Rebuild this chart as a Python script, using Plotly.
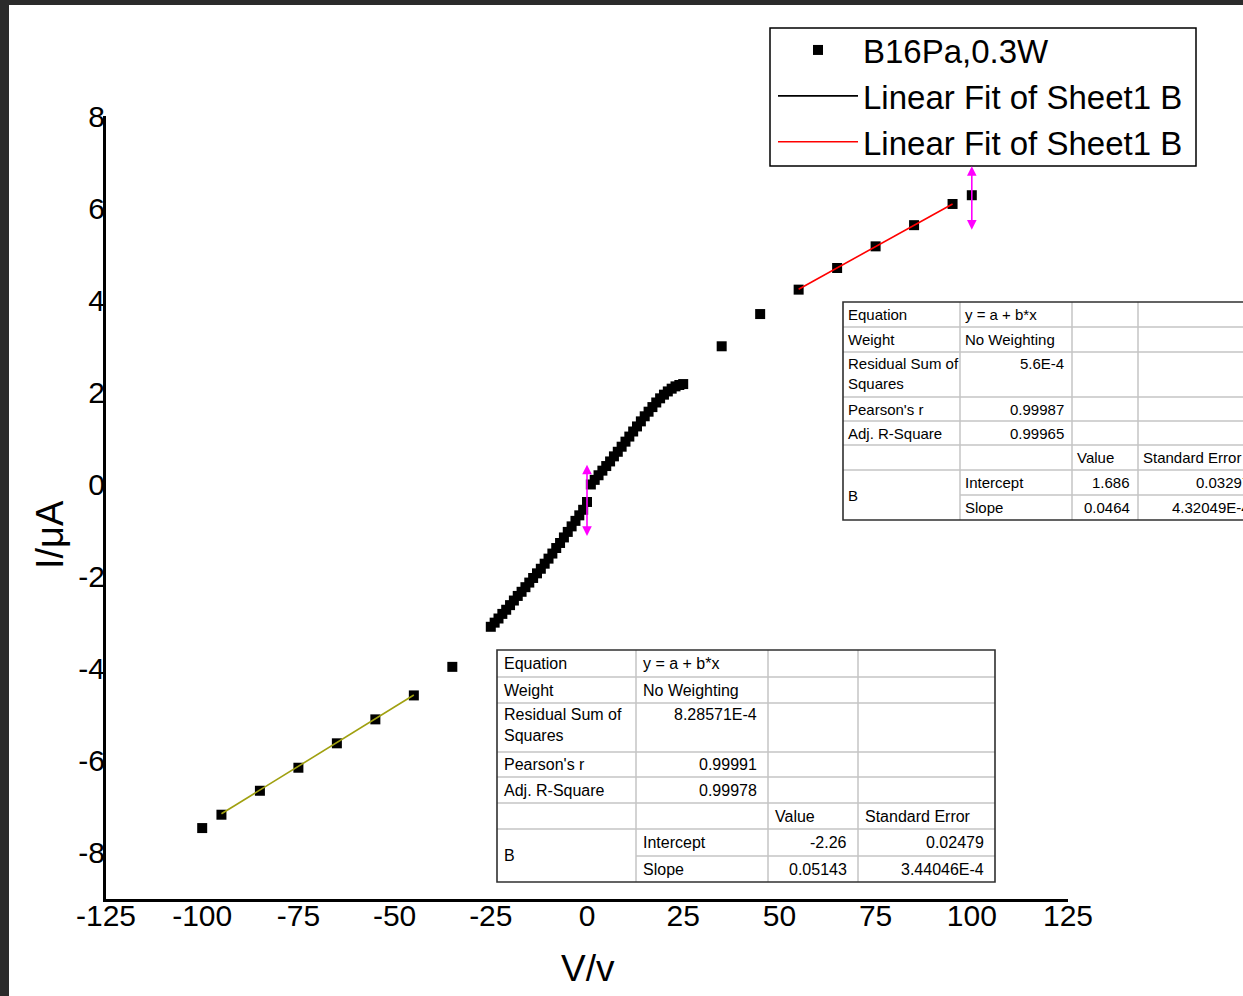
import plotly.graph_objects as go

# ---------------- data ----------------
volts = [-100, -95, -85, -75, -65, -55, -45, -35,
         -25, -24, -23, -22, -21, -20, -19, -18, -17, -16, -15, -14, -13,
         -12, -11, -10, -9, -8, -7, -6, -5, -4, -3, -2, -1, 0,
         1, 2, 3, 4, 5, 6, 7, 8, 9, 10, 11, 12, 13, 14, 15, 16, 17, 18,
         19, 20, 21, 22, 23, 24, 25,
         35, 45, 55, 65, 75, 85, 95, 100]
current = [-7.46, -7.17, -6.65, -6.15, -5.62, -5.10, -4.58, -3.96,
           -3.09, -3.00, -2.91, -2.81, -2.72, -2.62, -2.52, -2.42, -2.33, -2.23, -2.13, -2.03, -1.93,
           -1.83, -1.72, -1.61, -1.50, -1.38, -1.27, -1.15, -1.03, -0.91, -0.79, -0.67, -0.55, -0.38,
           0.00, 0.10, 0.20, 0.30, 0.40, 0.50, 0.61, 0.71, 0.82, 0.93, 1.04, 1.15, 1.26, 1.37, 1.48,
           1.58, 1.68, 1.78, 1.87, 1.95, 2.02, 2.08, 2.13, 2.16, 2.18,
           3.00, 3.70, 4.23, 4.70, 5.17, 5.63, 6.09, 6.28]

fit_left_v = [-95, -45]
fit_left_i = [-7.15, -4.57]
fit_right_v = [55, 95]
fit_right_i = [4.24, 6.09]

arrow_v = [0, 100]
arrow_top = [0.43, 6.91]
arrow_bottom = [-1.15, 5.50]

series_name = "B16Pa,0.3W"
fit_name = "Linear Fit of Sheet1 B"

x_tick_vals = [-125, -100, -75, -50, -25, 0, 25, 50, 75, 100, 125]
x_tick_text = ["-125", "-100", "-75", "-50", "-25", "0", "25", "50", "75", "100", "125"]
y_tick_vals = [-8, -6, -4, -2, 0, 2, 4, 6, 8]
y_tick_text = ["-8", "-6", "-4", "-2", "0", "2", "4", "6", "8"]
x_title = "V/v"
y_title = "I/μA"

row_labels = ["Equation", "Weight", "Residual Sum of<br>Squares", "Pearson's r",
              "Adj. R-Square", "", "B"]
equation = "y = a + b*x"
weighting = "No Weighting"
param_header = ["Value", "Standard Error"]
param_names = ["Intercept", "Slope"]

# upper-right fit table (right branch)
t1_rss = "5.6E-4"
t1_pearson = "0.99987"
t1_adjr2 = "0.99965"
t1_values = ["1.686", "0.0464"]
t1_errors = ["0.03297", "4.32049E-4"]

# lower fit table (left branch)
t2_rss = "8.28571E-4"
t2_pearson = "0.99991"
t2_adjr2 = "0.99978"
t2_values = ["-2.26", "0.05143"]
t2_errors = ["0.02479", "3.44046E-4"]

# ---------------- layout geometry (pixels) ----------------
W, H = 1243, 996
L, R, T, B = 106, 1068, 116, 899
PW, PH = R - L, B - T


def px_x(px):
    return (px - L) / PW


def px_y(py):
    return (B - py) / PH


TICK_FONT = "Liberation Sans, Arial, sans-serif"
TEXT_FONT = "Liberation Sans, Arial, sans-serif"

fig = go.Figure()

fig.add_trace(go.Scatter(
    x=volts, y=current, mode="markers", name=series_name,
    marker=dict(symbol="square", size=10, color="black", line=dict(width=0)),
))
fig.add_trace(go.Scatter(
    x=fit_left_v, y=fit_left_i, mode="lines", showlegend=False, name=fit_name,
    line=dict(color="#a0a010", width=1.6),
))
fig.add_trace(go.Scatter(
    x=[None], y=[None], mode="lines", name=fit_name,
    line=dict(color="black", width=1.6),
))
fig.add_trace(go.Scatter(
    x=fit_right_v, y=fit_right_i, mode="lines", name=fit_name,
    line=dict(color="#ff0000", width=1.6),
))

annotations = []
shapes = []

# legend frame
shapes.append(dict(type="rect", xref="paper", yref="paper",
                   x0=px_x(770), x1=px_x(1196), y0=px_y(166), y1=px_y(28),
                   fillcolor="white", line=dict(color="black", width=1.5), layer="above"))

# magenta reader arrows
for xv, yt, yb in zip(arrow_v, arrow_top, arrow_bottom):
    annotations.append(dict(
        x=xv, y=yt, ax=xv, ay=yb, xref="x", yref="y", axref="x", ayref="y",
        showarrow=True, arrowhead=2, arrowside="end+start", arrowsize=1.2,
        arrowwidth=1.6, arrowcolor="#ff00ff", text="",
    ))

# axis titles
annotations.append(dict(
    x=px_x(588), y=px_y(968), xref="paper", yref="paper", text=x_title,
    showarrow=False, xanchor="center", yanchor="middle",
    font=dict(family=TEXT_FONT, size=37, color="black"),
))
annotations.append(dict(
    x=px_x(50), y=px_y(535), xref="paper", yref="paper", text=y_title,
    showarrow=False, xanchor="center", yanchor="middle", textangle=-90,
    font=dict(family=TEXT_FONT, size=38, color="black"),
))


def add_table(cols, rows, rss, pearson, adjr2, values, errors, fsize, lpad, rpad):
    x0, x1 = cols[0], cols[-1]
    y0, y1 = rows[0], rows[-1]
    grid = dict(color="#c4c4c4", width=1.5)
    shapes.append(dict(type="rect", xref="paper", yref="paper",
                       x0=px_x(x0), x1=px_x(x1), y0=px_y(y0), y1=px_y(y1),
                       fillcolor="white", line=dict(width=0), layer="above"))
    for i in range(1, len(rows) - 1):
        start = cols[1] if i == len(rows) - 2 else x0
        shapes.append(dict(type="line", xref="paper", yref="paper",
                           x0=px_x(start), x1=px_x(x1), y0=px_y(rows[i]), y1=px_y(rows[i]),
                           line=grid, layer="above"))
    for c in cols[1:-1]:
        shapes.append(dict(type="line", xref="paper", yref="paper",
                           x0=px_x(c), x1=px_x(c), y0=px_y(y0), y1=px_y(y1),
                           line=grid, layer="above"))
    shapes.append(dict(type="rect", xref="paper", yref="paper",
                       x0=px_x(x0), x1=px_x(x1), y0=px_y(y0), y1=px_y(y1),
                       line=dict(color="#303030", width=1.6), layer="above"))

    font = dict(family=TEXT_FONT, size=fsize, color="black")

    def put(text, col, row, align="left", valign="middle"):
        if align == "left":
            xp, xa = cols[col] + lpad, "left"
        else:
            xp, xa = cols[col + 1] - rpad, "right"
        if valign == "middle":
            yp, ya = (rows[row] + rows[row + 1]) / 2, "middle"
        else:
            yp, ya = rows[row] + 2, "top"
        annotations.append(dict(x=px_x(xp), y=px_y(yp), xref="paper", yref="paper",
                                text=text, showarrow=False, xanchor=xa, yanchor=ya,
                                align="left", font=font, borderpad=0))

    put(row_labels[0], 0, 0)
    put(row_labels[1], 0, 1)
    put(row_labels[2], 0, 2, valign="top")
    put(row_labels[3], 0, 3)
    put(row_labels[4], 0, 4)
    annotations.append(dict(x=px_x(cols[0] + lpad), y=px_y((rows[6] + rows[8]) / 2),
                            xref="paper", yref="paper", text=row_labels[6],
                            showarrow=False, xanchor="left", yanchor="middle",
                            font=font, borderpad=0))
    put(equation, 1, 0)
    put(weighting, 1, 1)
    put(rss, 1, 2, align="right", valign="top")
    put(pearson, 1, 3, align="right")
    put(adjr2, 1, 4, align="right")
    put(param_header[0], 2, 5)
    put(param_header[1], 3, 5)
    put(param_names[0], 1, 6)
    put(param_names[1], 1, 7)
    put(values[0], 2, 6, align="right")
    put(values[1], 2, 7, align="right")
    put(errors[0], 3, 6, align="right")
    put(errors[1], 3, 7, align="right")


add_table([843, 960, 1072, 1138, 1258],
          [302, 327, 352, 397, 421, 445, 470, 495, 520],
          t1_rss, t1_pearson, t1_adjr2, t1_values, t1_errors, 15, 4, 7)
add_table([497, 636, 768, 858, 995],
          [650, 677, 703, 752, 777, 803, 829, 856, 882],
          t2_rss, t2_pearson, t2_adjr2, t2_values, t2_errors, 16, 6, 10)

# dark window frame at the left and top edges
shapes.append(dict(type="rect", xref="paper", yref="paper",
                   x0=px_x(-2), x1=px_x(9), y0=px_y(H + 2), y1=px_y(-2),
                   fillcolor="#2b2b2b", line=dict(width=0), layer="above"))
shapes.append(dict(type="rect", xref="paper", yref="paper",
                   x0=px_x(-2), x1=px_x(W + 2), y0=px_y(5), y1=px_y(-2),
                   fillcolor="#2b2b2b", line=dict(width=0), layer="above"))

fig.update_layout(
    width=W, height=H,
    margin=dict(l=L, r=W - R, t=T, b=H - B, pad=0),
    paper_bgcolor="white", plot_bgcolor="white",
    showlegend=True,
    legend=dict(
        x=px_x(773), y=px_y(22), xanchor="left", yanchor="top",
        bgcolor="rgba(0,0,0,0)", borderwidth=0,
        font=dict(family=TEXT_FONT, size=33, color="black"),
        itemwidth=80, tracegroupgap=0,
    ),
    xaxis=dict(
        range=[-125, 125], tickmode="array", tickvals=x_tick_vals, ticktext=x_tick_text,
        showline=True, linecolor="black", linewidth=3, showgrid=False, zeroline=False,
        ticks="", ticklabelstandoff=-12,
        tickfont=dict(family=TICK_FONT, size=30, color="black"),
    ),
    yaxis=dict(
        range=[-9, 8], tickmode="array", tickvals=y_tick_vals, ticktext=y_tick_text,
        showline=True, linecolor="black", linewidth=3, showgrid=False, zeroline=False,
        ticks="", ticklabelstandoff=-8,
        tickfont=dict(family=TICK_FONT, size=30, color="black"),
    ),
    annotations=annotations,
    shapes=shapes,
)

fig.write_html("out.html")
